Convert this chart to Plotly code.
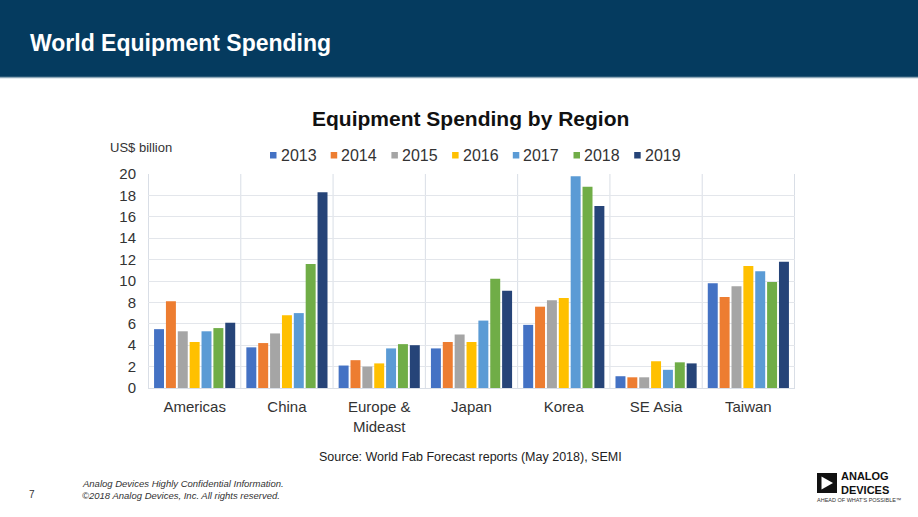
import plotly.graph_objects as go

W, H = 918, 517
ML, MR, MT, MB = 148, 123, 174, 129
PW, PH = W - ML - MR, H - MT - MB

def px(x):
    return (x - ML) / PW

def py(y):
    return (H - MB - y) / PH

regions = ["Americas", "China", "Europe &<br>Mideast", "Japan", "Korea", "SE Asia", "Taiwan"]
years = ["2013", "2014", "2015", "2016", "2017", "2018", "2019"]
v2013 = [5.5, 3.8, 2.1, 3.7, 5.9, 1.1, 9.8]
v2014 = [8.1, 4.2, 2.6, 4.3, 7.6, 1.0, 8.5]
v2015 = [5.3, 5.1, 2.0, 5.0, 8.2, 1.0, 9.5]
v2016 = [4.3, 6.8, 2.3, 4.3, 8.4, 2.5, 11.4]
v2017 = [5.3, 7.0, 3.7, 6.3, 19.8, 1.7, 10.9]
v2018 = [5.6, 11.6, 4.1, 10.2, 18.8, 2.4, 9.9]
v2019 = [6.1, 18.3, 4.0, 9.1, 17.0, 2.3, 11.8]
series = [v2013, v2014, v2015, v2016, v2017, v2018, v2019]
colors = ["#4472C4", "#ED7D31", "#A5A5A5", "#FFC000", "#5B9BD5", "#70AD47", "#264478"]
yticks = [0, 2, 4, 6, 8, 10, 12, 14, 16, 18, 20]

FONT = "Liberation Sans, Arial, sans-serif"
NARROW = "Liberation Sans Narrow, Arial Narrow, Liberation Sans, sans-serif"

fig = go.Figure()
for yr, vals, col in zip(years, series, colors):
    fig.add_trace(go.Bar(name=yr, x=regions, y=vals, marker=dict(color=col, line=dict(width=0)),
                         showlegend=False))

shapes = []
annotations = []

# header band
shapes.append(dict(type="rect", xref="paper", yref="paper", x0=px(0), x1=px(W), y0=py(77), y1=py(0),
                   fillcolor="#053B5F", line=dict(width=0), layer="below"))
shapes.append(dict(type="line", xref="paper", yref="paper", x0=px(0), x1=px(W), y0=py(77.5), y1=py(77.5),
                   line=dict(color="#8FA8B8", width=1.5)))
# vertical category separators
for i in range(len(regions) + 1):
    shapes.append(dict(type="line", xref="x", yref="paper", x0=i - 0.5, x1=i - 0.5, y0=0, y1=1,
                       line=dict(color="#D9DEE6", width=1), layer="below"))

# manual legend
LEG_X0, LEG_STEP, LEG_Y = 270, 60.7, 155
for i, (yr, col) in enumerate(zip(years, colors)):
    sx = LEG_X0 + i * LEG_STEP
    shapes.append(dict(type="rect", xref="paper", yref="paper", x0=px(sx), x1=px(sx + 6.5),
                       y0=py(LEG_Y + 3.5), y1=py(LEG_Y - 3), fillcolor=col, line=dict(width=0)))
    annotations.append(dict(text=yr, x=px(sx + 8.5), y=py(LEG_Y), xref="paper", yref="paper",
                            xanchor="left", yanchor="middle", showarrow=False,
                            font=dict(family=FONT, size=16, color="#333333")))

# logo
shapes.append(dict(type="rect", xref="paper", yref="paper", x0=px(817), x1=px(837), y0=py(493), y1=py(473),
                   fillcolor="#111111", line=dict(width=0)))
shapes.append(dict(type="path", xref="paper", yref="paper",
                   path=f"M {px(821.5)} {py(476.5)} L {px(833)} {py(483)} L {px(821.5)} {py(489.5)} Z",
                   fillcolor="white", line=dict(width=0)))

annotations += [
    dict(text="<b>World Equipment Spending</b>", x=px(28), y=py(43), xref="paper", yref="paper",
         xanchor="left", yanchor="middle", showarrow=False, font=dict(family=FONT, size=23, color="white")),
    dict(text="<b>Equipment Spending by Region</b>", x=px(470.5), y=py(118), xref="paper", yref="paper",
         xanchor="center", yanchor="middle", showarrow=False, font=dict(family=FONT, size=21, color="#111111")),
    dict(text="US$ billion", x=px(108), y=py(147), xref="paper", yref="paper",
         xanchor="left", yanchor="middle", showarrow=False, font=dict(family=FONT, size=13, color="#333333")),
    dict(text="Source: World Fab Forecast reports (May 2018), SEMI", x=px(470), y=py(457), xref="paper", yref="paper",
         xanchor="center", yanchor="middle", showarrow=False, font=dict(family=FONT, size=12.5, color="#222222")),
    dict(text="<i>Analog Devices Highly Confidential Information.</i>", x=px(80), y=py(483), xref="paper", yref="paper",
         xanchor="left", yanchor="middle", showarrow=False, font=dict(family=FONT, size=9.5, color="#333333")),
    dict(text="<i>©2018 Analog Devices, Inc. All rights reserved.</i>", x=px(80), y=py(495), xref="paper", yref="paper",
         xanchor="left", yanchor="middle", showarrow=False, font=dict(family=FONT, size=9.5, color="#333333")),
    dict(text="7", x=px(27), y=py(494), xref="paper", yref="paper",
         xanchor="left", yanchor="middle", showarrow=False, font=dict(family=FONT, size=10, color="#333333")),
    dict(text="<b>ANALOG<br>DEVICES</b>", x=px(839.5), y=py(483), xref="paper", yref="paper",
         xanchor="left", yanchor="middle", showarrow=False, align="left", borderpad=0,
         font=dict(family=FONT, size=11, color="#111111")),
    dict(text="AHEAD OF WHAT'S POSSIBLE™", x=px(816), y=py(499.5), xref="paper", yref="paper",
         xanchor="left", yanchor="middle", showarrow=False, borderpad=0,
         font=dict(family=NARROW, size=5.5, color="#333333")),
]

fig.update_layout(
    width=W, height=H,
    margin=dict(l=ML, r=MR, t=MT, b=MB, pad=0),
    paper_bgcolor="white", plot_bgcolor="white",
    barmode="group", bargap=0.1, bargroupgap=0.16,
    font=dict(family=FONT, color="#333333"),
    showlegend=False,
    xaxis=dict(showgrid=False, showline=True, linecolor="#D9DEE6", ticks="", ticklabelstandoff=5,
               tickfont=dict(family=FONT, size=15, color="#333333"), fixedrange=True),
    yaxis=dict(range=[0, 20], tickvals=yticks, ticktext=[str(t) for t in yticks],
               showgrid=True, gridcolor="#E3E6EB", gridwidth=1, zeroline=False, showline=False,
               ticks="", ticklabelstandoff=11,
               tickfont=dict(family=FONT, size=15, color="#333333")),
    shapes=shapes,
    annotations=annotations,
)

fig.write_html("out.html", config={"displayModeBar": False},
               post_script="document.body.style.margin='0';document.body.style.overflow='hidden';")
